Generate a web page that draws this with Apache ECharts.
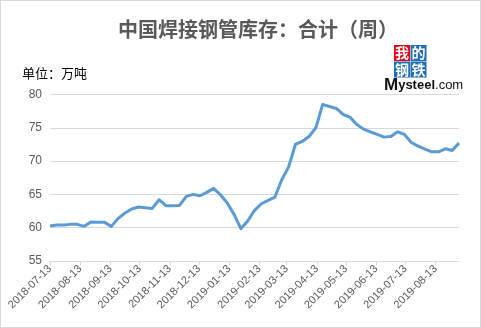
<!DOCTYPE html>
<html><head><meta charset="utf-8">
<script src="https://cdn.jsdelivr.net/npm/echarts@6/dist/echarts.min.js"></script>
<style>html,body{margin:0;padding:0;background:#fff}#c{width:481px;height:328px;box-sizing:border-box;border:1px solid #d9d9d9}</style>
</head><body><div id="c"></div>
<script>
const titleText = '中国焊接钢管库存：合计（周）';
const unitText = '单位：万吨';
const dates = ['2018-07-13','2018-07-20','2018-07-27','2018-08-03','2018-08-10','2018-08-17','2018-08-24','2018-08-31',
'2018-09-07','2018-09-14','2018-09-21','2018-09-28','2018-10-05','2018-10-12','2018-10-19','2018-10-26',
'2018-11-02','2018-11-09','2018-11-16','2018-11-23','2018-11-30','2018-12-07','2018-12-14','2018-12-21','2018-12-28',
'2019-01-04','2019-01-11','2019-01-18','2019-01-25','2019-02-01','2019-02-08','2019-02-15','2019-02-22',
'2019-03-01','2019-03-08','2019-03-15','2019-03-22','2019-03-29','2019-04-05','2019-04-12','2019-04-19','2019-04-26',
'2019-05-03','2019-05-10','2019-05-17','2019-05-24','2019-05-31','2019-06-07','2019-06-14','2019-06-21','2019-06-28',
'2019-07-05','2019-07-12','2019-07-19','2019-07-26','2019-08-02','2019-08-09','2019-08-16','2019-08-23','2019-08-30','2019-09-06'];
const values = [60.25,60.4,60.4,60.5,60.5,60.2,60.85,60.8,60.8,60.2,61.4,62.2,62.8,63.1,63.0,62.9,
64.2,63.3,63.3,63.35,64.7,65.0,64.8,65.3,65.9,64.95,63.7,62.0,59.85,61.0,62.6,63.6,64.1,64.6,
67.2,69.1,72.5,72.95,73.7,75.0,78.5,78.2,77.9,77.0,76.6,75.5,74.8,74.4,74.0,73.6,73.7,74.4,74.0,
72.8,72.25,71.8,71.4,71.4,71.85,71.6,72.7];
const tickLabels = ['2018-07-13','2018-08-13','2018-09-13','2018-10-13','2018-11-13','2018-12-13','2019-01-13',
'2019-02-13','2019-03-13','2019-04-13','2019-05-13','2019-06-13','2019-07-13','2019-08-13'];
const yMin = 55, yMax = 80, yStep = 5;

const DAY = 86400000;
function toUTC(s){const p=s.split('-').map(Number);return Date.UTC(p[0],p[1]-1,p[2]);}
const t0 = toUTC(dates[0]);
const dayOf = s => Math.round((toUTC(s)-t0)/DAY);
const fmt = d => {const dt=new Date(t0+d*DAY);const z=n=>String(n).padStart(2,'0');return dt.getUTCFullYear()+'-'+z(dt.getUTCMonth()+1)+'-'+z(dt.getUTCDate());};
const seriesData = dates.map((d,i)=>[dayOf(d),values[i]]);
const tickDays = tickLabels.map(dayOf);

const chart = echarts.init(document.getElementById('c'),null,{renderer:'canvas'});
const logoColors = ['#e60012','#1f6fb5','#1f6fb5','#1f6fb5'];
const logoChars = ['我','的','钢','铁'];
const logo = logoChars.map((ch,i)=>({
  type:'group', left:393+(i%2)*16.5, top:44+Math.floor(i/2)*16.5,
  children:[
    {type:'rect',shape:{x:0,y:0,width:16,height:16},style:{fill:logoColors[i]}},
    {type:'text',x:8,y:8,style:{text:ch,fill:'#fff',font:'bold 14px "Noto Sans CJK SC"',align:'center',verticalAlign:'middle'}}
  ]}));
chart.setOption({
  animation:false,
  title:{text:titleText,left:252,top:13,textAlign:'center',
    textStyle:{color:'#595959',fontSize:20,fontWeight:'bold',fontFamily:'"Noto Sans CJK SC"'}},
  graphic:[
    {type:'text',left:21,top:66,style:{text:unitText,fill:'#000',font:'13px "Noto Sans CJK SC"'}},
    ...logo,
    {type:'text',left:383,top:76,style:{rich:{
      a:{font:'bold 17px "Liberation Sans"',fill:'#111'},
      b:{font:'bold 13px "Liberation Sans"',fill:'#111'},
      c:{font:'13px "Liberation Sans"',fill:'#111'}},
      text:'{a|M}{b|ysteel}{c|.com}'}}
  ],
  grid:{left:49,right:21,top:93.5,bottom:66,containLabel:false},
  xAxis:{type:'value',min:0,max:dayOf(dates[dates.length-1]),
    splitLine:{show:false},
    axisLine:{show:true,lineStyle:{color:'#d9d9d9',width:1}},
    axisTick:{show:true,customValues:tickDays,length:4,lineStyle:{color:'#d9d9d9'}},
    axisLabel:{customValues:tickDays,rotate:45,formatter:v=>fmt(v),color:'#595959',fontSize:11,
      fontFamily:'"Liberation Sans"',margin:6}},
  yAxis:{type:'value',min:yMin,max:yMax,interval:yStep,
    axisLine:{show:false},axisTick:{show:false},
    splitLine:{lineStyle:{color:'#d9d9d9',width:1}},
    axisLabel:{color:'#595959',fontSize:12,fontFamily:'"Liberation Sans"',margin:8}},
  series:[{type:'line',data:seriesData,showSymbol:false,symbol:'none',
    lineStyle:{color:'#5b9bd5',width:3,join:'round'}}]
});
</script></body></html>
